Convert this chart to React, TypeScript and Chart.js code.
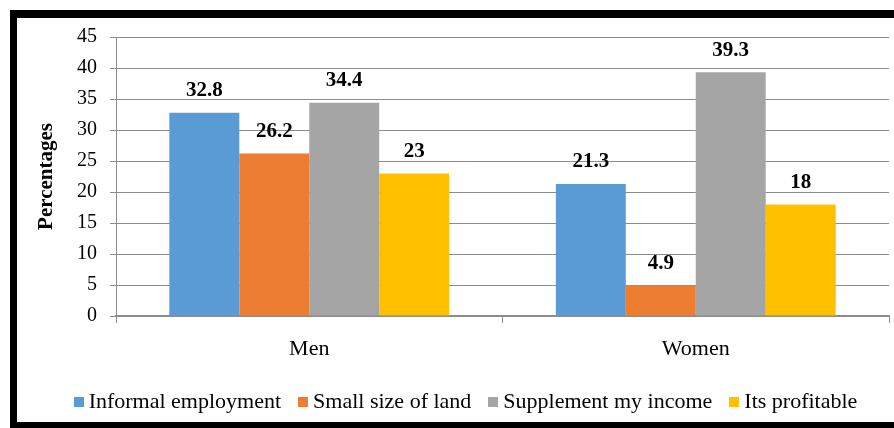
import React, { useEffect, useRef } from "react";
import { Chart, registerables } from "chart.js";

Chart.register(...registerables);

const categories = ["Men", "Women"];
const seriesNames = [
  "Informal employment",
  "Small size of land",
  "Supplement my income",
  "Its profitable",
];
const informalEmployment = [32.8, 21.3];
const smallSizeOfLand = [26.2, 4.9];
const supplementMyIncome = [34.4, 39.3];
const itsProfitable = [23, 18];
const seriesColors = ["#5B9BD5", "#ED7D31", "#A5A5A5", "#FFC000"];
const yMin = 0;
const yMax = 45;
const yStep = 5;
const yTitle = "Percentages";

const FONT = '"Liberation Serif", serif';

const dataLabelPlugin = {
  id: "dataLabels",
  afterDatasetsDraw(chart: any) {
    const ctx = chart.ctx;
    ctx.save();
    ctx.font = `bold 21px ${FONT}`;
    ctx.fillStyle = "#000";
    ctx.textAlign = "center";
    ctx.textBaseline = "middle";
    chart.data.datasets.forEach((ds: any, i: number) => {
      const meta = chart.getDatasetMeta(i);
      meta.data.forEach((bar: any, j: number) => {
        ctx.fillText(String(ds.data[j]), bar.x, bar.y - 22);
      });
    });
    ctx.restore();
  },
};

export default function App() {
  const ref = useRef<HTMLCanvasElement | null>(null);

  useEffect(() => {
    if (!ref.current) return;
    const seriesData = [informalEmployment, smallSizeOfLand, supplementMyIncome, itsProfitable];
    const chart = new Chart(ref.current, {
      type: "bar",
      data: {
        labels: categories,
        datasets: seriesNames.map((name, i) => ({
          label: name,
          data: seriesData[i],
          backgroundColor: seriesColors[i],
          borderWidth: 0,
          barPercentage: 1,
          categoryPercentage: 0.724,
        })),
      },
      options: {
        responsive: false,
        animation: false,
        devicePixelRatio: 1,
        layout: { padding: { left: 0, right: 5, top: 19, bottom: 56 } },
        plugins: {
          legend: { display: false },
          tooltip: { enabled: false },
        },
        scales: {
          x: {
            grid: {
              display: true,
              drawOnChartArea: false,
              drawTicks: true,
              tickLength: 7,
              color: "#8c8c8c",
              offset: true,
            },
            border: { display: true, color: "#8c8c8c", width: 2 },
            ticks: {
              color: "#000",
              font: { family: FONT, size: 22 },
              padding: 13,
            },
            afterFit(scale: any) {
              scale.height = 50;
            },
          },
          y: {
            min: yMin,
            max: yMax,
            ticks: {
              stepSize: yStep,
              color: "#000",
              font: { family: FONT, size: 20, lineHeight: 0.6 },
              padding: 13,
            },
            grid: {
              color: "#8c8c8c",
              lineWidth: 1,
              tickLength: 6,
            },
            border: { display: true, color: "#8c8c8c", width: 1 },
            title: {
              display: true,
              text: yTitle,
              color: "#000",
              font: { family: FONT, size: 21, weight: "bold" },
              padding: { top: 17, bottom: 0 },
            },
            afterFit(scale: any) {
              scale.width = 99;
            },
          },
        },
      },
      plugins: [dataLabelPlugin],
    } as any);
    let alive = true;
    const redraw = () => {
      if (alive) chart.update();
    };
    const timers = [
      setTimeout(redraw, 50),
      setTimeout(redraw, 150),
      setTimeout(redraw, 300),
      setTimeout(redraw, 700),
      setTimeout(redraw, 1500),
    ];
    requestAnimationFrame(() => requestAnimationFrame(redraw));
    const fonts: any = (document as any).fonts;
    if (fonts && fonts.load) {
      fonts.load('22px "Liberation Serif"').then(redraw).catch(() => {});
      fonts.load('bold 21px "Liberation Serif"').then(redraw).catch(() => {});
    }
    return () => {
      alive = false;
      timers.forEach((t) => clearTimeout(t));
      chart.destroy();
    };
  }, []);

  return (
    <div
      style={{
        position: "fixed",
        left: 0,
        top: 0,
        width: 894,
        height: 428,
        background: "#fff",
        overflow: "hidden",
        fontFamily: FONT,
      }}
    >
      <div
        style={{
          position: "absolute",
          left: 10,
          top: 10,
          width: 884,
          height: 418,
          boxSizing: "border-box",
          borderTop: "8px solid #000",
          borderLeft: "7px solid #000",
          borderBottom: "6px solid #000",
          background: "#fff",
        }}
      >
        <canvas ref={ref} width={877} height={404} style={{ display: "block", width: 877, height: 404 }} />
      </div>
      <div
        style={{
          position: "absolute",
          left: 37,
          width: 857,
          top: 390,
          textAlign: "center",
          whiteSpace: "nowrap",
          fontFamily: FONT,
          fontSize: 22,
          lineHeight: "22px",
          color: "#000",
        }}
      >
        {seriesNames.map((n, i) => (
          <span
            key={n}
            style={{
              display: "inline-block",
              position: "relative",
              paddingLeft: 15,
              marginRight: i < seriesNames.length - 1 ? 17 : 0,
            }}
          >
            <span
              style={{
                position: "absolute",
                left: 0,
                top: 7,
                width: 10,
                height: 10,
                background: seriesColors[i],
              }}
            />
            {n}
          </span>
        ))}
      </div>
    </div>
  );
}
